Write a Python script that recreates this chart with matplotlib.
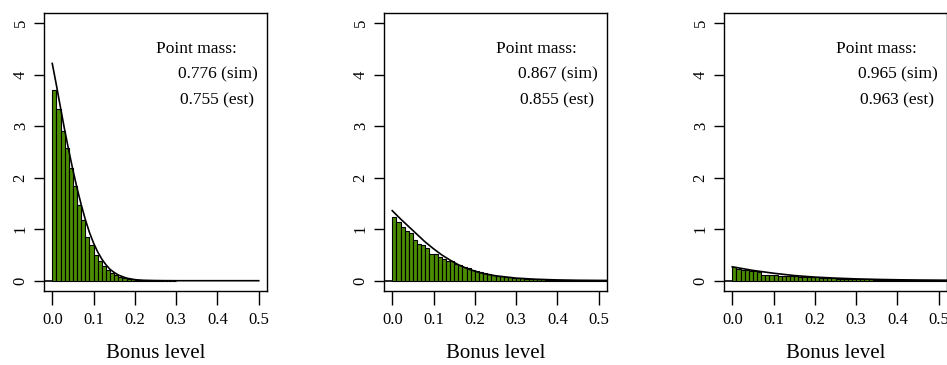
import matplotlib
matplotlib.use("Agg")
from matplotlib import pyplot as plt

BIN_W = 0.01
BAR_COLOR = "#4A8B00"

# simulated histogram heights, bins of width 0.01 starting at 0
sim1 = [3.71, 3.34, 2.91, 2.57, 2.18, 1.84, 1.47, 1.17, 0.85, 0.70,
        0.49, 0.38, 0.28, 0.20, 0.15, 0.11, 0.08, 0.06, 0.04, 0.03,
        0.02, 0.015, 0.01, 0.008, 0.006, 0.004, 0.003, 0.002, 0.002, 0.001]
sim2 = [1.23, 1.14, 1.04, 0.975, 0.92, 0.79, 0.72, 0.70, 0.63, 0.52,
        0.51, 0.47, 0.43, 0.39, 0.38, 0.33, 0.30, 0.27, 0.24, 0.21,
        0.19, 0.17, 0.15, 0.13, 0.12, 0.10, 0.09, 0.08, 0.07, 0.06,
        0.055, 0.05, 0.04, 0.035, 0.03, 0.027, 0.024, 0.02, 0.018, 0.016,
        0.014, 0.012, 0.011, 0.01, 0.009, 0.008, 0.007, 0.006, 0.005, 0.005,
        0.004, 0.004]
sim3 = [0.26, 0.23, 0.21, 0.20, 0.18, 0.18, 0.17, 0.12, 0.12, 0.11,
        0.11, 0.10, 0.10, 0.10, 0.10, 0.09, 0.08, 0.07, 0.07, 0.065,
        0.065, 0.05, 0.05, 0.045, 0.045, 0.04, 0.035, 0.035, 0.03, 0.03,
        0.028, 0.026, 0.025, 0.024, 0.022, 0.021, 0.02, 0.019, 0.018, 0.017,
        0.016, 0.015, 0.015, 0.014, 0.013, 0.012, 0.012, 0.011, 0.011, 0.01,
        0.01, 0.01]

# estimated density curves
curve1_x = [0, 0.01, 0.02, 0.03, 0.04, 0.05, 0.06, 0.07, 0.08, 0.09, 0.10,
            0.11, 0.12, 0.13, 0.14, 0.15, 0.16, 0.18, 0.20, 0.22, 0.25, 0.30, 0.50]
curve1_y = [4.22, 3.80, 3.36, 2.93, 2.53, 2.15, 1.80, 1.48, 1.19, 0.94, 0.73,
            0.56, 0.42, 0.31, 0.22, 0.16, 0.11, 0.05, 0.02, 0.008, 0.002, 0.0, 0.0]
curve2_x = [0, 0.02, 0.04, 0.06, 0.08, 0.10, 0.12, 0.14, 0.16, 0.18, 0.20,
            0.22, 0.25, 0.30, 0.35, 0.40, 0.45, 0.50, 0.55]
curve2_y = [1.36, 1.20, 1.05, 0.90, 0.75, 0.62, 0.50, 0.40, 0.31, 0.24, 0.185,
            0.14, 0.095, 0.05, 0.027, 0.015, 0.008, 0.005, 0.003]
curve3_x = [0, 0.05, 0.10, 0.15, 0.20, 0.25, 0.30, 0.35, 0.40, 0.45, 0.50, 0.55]
curve3_y = [0.27, 0.20, 0.145, 0.10, 0.07, 0.05, 0.035, 0.025, 0.018, 0.013, 0.01, 0.008]

point_sim = ["0.776", "0.867", "0.965"]
point_est = ["0.755", "0.855", "0.963"]

panels = [(sim1, curve1_x, curve1_y), (sim2, curve2_x, curve2_y), (sim3, curve3_x, curve3_y)]

plt.rcParams['font.family'] = ['Liberation Serif', 'DejaVu Serif']

W, H = 947, 365
fig = plt.figure(figsize=(W / 100, H / 100), dpi=100)
lefts = [44, 384, 724]

for i, (sim, cx, cy) in enumerate(panels):
    ax = fig.add_axes([lefts[i] / W, (H - 291) / H, 223 / W, 278 / H])
    edges = [k * BIN_W for k in range(len(sim))]
    ax.bar(edges, sim, width=BIN_W, align='edge', color=BAR_COLOR,
           edgecolor='black', linewidth=0.8)
    ax.plot(cx, cy, color='black', linewidth=1.2)
    ax.plot([-0.05, 0], [0, 0], color='black', linewidth=1.2)

    ax.set_xlim(-0.02, 0.52)
    ax.set_ylim(-0.2, 5.2)
    ax.set_xticks([0.0, 0.1, 0.2, 0.3, 0.4, 0.5])
    ax.set_xticklabels(['0.0', '0.1', '0.2', '0.3', '0.4', '0.5'])
    ax.set_yticks([0, 1, 2, 3, 4, 5])
    ax.tick_params(axis='x', direction='out', length=10, width=1, labelsize=12, pad=5)
    ax.tick_params(axis='y', direction='out', length=7, width=1, labelsize=12, pad=4)
    for lab in ax.get_yticklabels():
        lab.set_rotation(90)
        lab.set_va('center')
    for sp in ax.spines.values():
        sp.set_linewidth(1.0)

    ax.set_xlabel('Bonus level', fontsize=15)
    ax.xaxis.set_label_coords(0.5, -(353 - 291) / 278)
    ax.xaxis.label.set_va('center')

    ax.text(0.35, 4.5, 'Point mass:', ha='center', va='center', fontsize=12.5)
    ax.text(0.40, 4.0, point_sim[i] + ' (sim)', ha='center', va='center', fontsize=12.5)
    ax.text(0.40, 3.5, point_est[i] + ' (est)', ha='center', va='center', fontsize=12.5)

fig.savefig('out.png', dpi=100)
